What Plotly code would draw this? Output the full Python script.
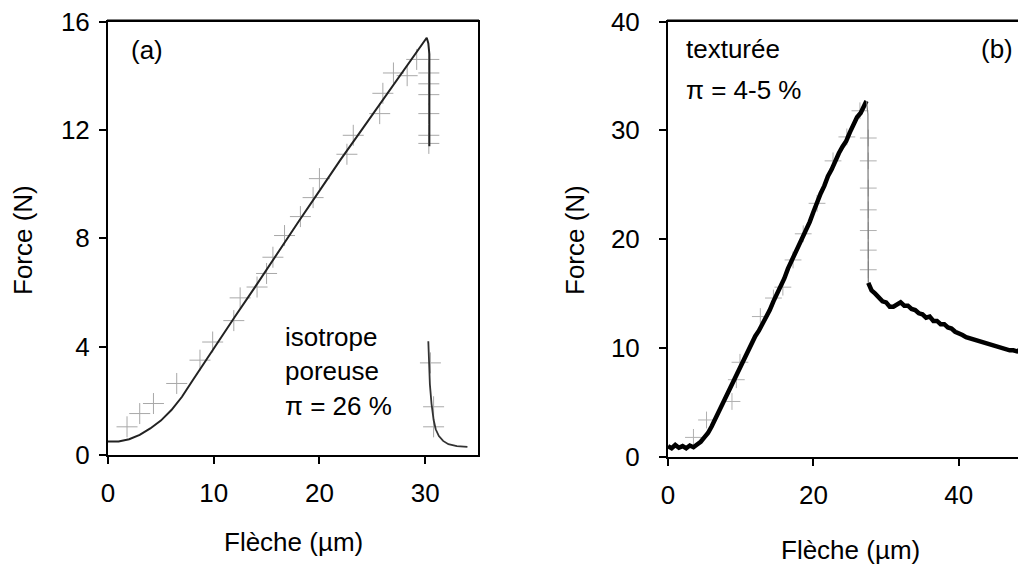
import plotly.graph_objects as go

W, H = 1026, 565

# ---------- Panel (a): isotrope poreuse ----------
a_rise_x = [0, 1, 2, 3, 4, 5, 6, 7, 8, 9, 10, 12, 14, 16, 18, 20, 22, 24, 26, 28, 29, 30, 30.15, 30.3, 30.4, 30.4]
a_rise_F = [0.5, 0.5, 0.58, 0.74, 0.98, 1.27, 1.66, 2.15, 2.75, 3.35, 3.95, 5.1, 6.25, 7.45, 8.6, 9.75, 10.9, 12.0,
            13.1, 14.2, 14.75, 15.3, 15.4, 15.2, 14.8, 11.4]
a_tail_x = [30.3, 30.35, 30.45, 30.6, 30.8, 31.0, 31.3, 31.7, 32.2, 33.0, 34.0]
a_tail_F = [4.2, 3.4, 2.6, 1.9, 1.3, 0.95, 0.7, 0.52, 0.4, 0.33, 0.3]
a_cross_x = [1.8, 3.0, 4.3, 6.5, 8.7, 9.9, 11.9, 12.5, 14.1, 15.0, 15.6, 16.7, 18.2, 19.4, 20.0, 22.6, 23.2,
             25.7, 26.0, 27.0, 28.3, 29.2, 30.35, 30.35, 30.35, 30.35, 30.35, 30.35, 30.35, 30.5, 30.8, 30.8]
a_cross_F = [1.04, 1.53, 1.9, 2.64, 3.5, 4.17, 4.96, 5.8, 6.2, 6.7, 7.3, 8.1, 8.8, 9.5, 10.2, 11.1, 11.8,
             12.6, 13.35, 14.1, 14.0, 14.6, 14.6, 14.1, 13.7, 13.3, 12.6, 11.8, 11.5, 3.4, 1.78, 1.04]

# ---------- Panel (b): texturée ----------
b_rise_x = [0, 0.5, 1, 1.5, 2, 2.5, 3, 3.5, 4, 4.5, 5, 5.5, 6, 6.5, 7, 7.5, 8, 8.5, 9, 9.5, 10, 10.5, 11, 11.5,
            12, 12.5, 13, 13.5, 14, 14.5, 15, 15.5, 16, 16.5, 17, 17.5, 18, 18.5, 19, 19.5, 20, 20.5, 21, 21.5,
            22, 22.5, 23, 23.5, 24, 24.5, 25, 25.5, 26, 26.5, 27, 27.3]
b_rise_F = [1.0, 0.8, 1.1, 0.85, 1.0, 0.8, 1.05, 0.9, 1.15, 1.4, 1.8, 2.2, 2.8, 3.5, 4.2, 5.0, 5.7, 6.3, 7.0,
            7.8, 8.4, 9.1, 9.7, 10.5, 11.1, 11.6, 12.2, 12.9, 13.5, 14.3, 15.0, 15.6, 16.4, 17.3, 18.0, 18.7,
            19.5, 20.3, 21.0, 21.6, 22.5, 23.4, 24.2, 24.9, 25.8, 26.4, 27.2, 27.9, 28.5, 29.0, 29.8, 30.6,
            31.2, 31.6, 32.3, 32.7]
b_drop_x = [27.3, 27.5, 27.55]
b_drop_F = [32.7, 31.5, 16.0]
b_post_x = [27.55, 28, 28.5, 29, 29.5, 30, 30.5, 31, 31.5, 32, 32.5, 33, 33.5, 34, 34.5, 35, 35.5, 36, 36.5,
            37, 37.5, 38, 38.5, 39, 39.5, 40, 40.5, 41, 41.5, 42, 42.5, 43, 43.5, 44, 44.5, 45, 45.5, 46,
            46.5, 47, 47.5, 48, 48.5, 49, 49.5, 50]
b_post_F = [16.0, 15.3, 15.0, 14.7, 14.3, 14.2, 13.8, 13.8, 14.0, 14.2, 13.9, 13.9, 13.6, 13.5, 13.2, 13.1,
            12.8, 12.9, 12.5, 12.5, 12.2, 12.2, 11.9, 11.8, 11.5, 11.4, 11.2, 11.0, 10.9, 10.7, 10.6, 10.5,
            10.4, 10.3, 10.3, 10.1, 10.1, 10.0, 9.9, 9.8, 9.8, 9.7, 9.9, 10.0, 10.1, 10.2]
b_cross_x = [3.5, 5.3, 8.8, 9.4, 9.9, 12.7, 14.5, 15.8, 17.2, 18.6, 20.5, 22.7, 24.6, 26.4,
             27.55, 27.55, 27.55, 27.55, 27.55, 27.55, 27.55]
b_cross_F = [1.8, 3.4, 5.1, 7.1, 8.7, 12.9, 14.6, 15.6, 18.1, 20.5, 23.3, 27.2, 29.4, 31.8,
             29.3, 27.2, 24.7, 22.7, 20.8, 19.0, 17.2]

a_ticks = [0, 10, 20, 30]
a_yticks = [0, 4, 8, 12, 16]
b_ticks = [0, 20, 40]
b_yticks = [0, 10, 20, 30, 40]

FONT = "Liberation Sans, Arial, sans-serif"
FS = 26
OFF = 8  # page body margin: figure drawn 8px right/down of window origin

fig = go.Figure()

# panel a
fig.add_trace(go.Scatter(x=a_cross_x, y=a_cross_F, mode="markers", xaxis="x", yaxis="y",
                         marker=dict(symbol="cross-thin", size=15, line=dict(width=1, color="#a8a8a8")),
                         showlegend=False))
fig.add_trace(go.Scatter(x=a_rise_x, y=a_rise_F, mode="lines", xaxis="x", yaxis="y",
                         line=dict(color="#222222", width=2), showlegend=False))
fig.add_trace(go.Scatter(x=a_tail_x, y=a_tail_F, mode="lines", xaxis="x", yaxis="y",
                         line=dict(color="#333333", width=1.8), showlegend=False))

# panel b
fig.add_trace(go.Scatter(x=b_cross_x, y=b_cross_F, mode="markers", xaxis="x2", yaxis="y2",
                         marker=dict(symbol="cross-thin", size=12, line=dict(width=1, color="#b0b0b0")),
                         showlegend=False))
fig.add_trace(go.Scatter(x=b_rise_x, y=b_rise_F, mode="lines", xaxis="x2", yaxis="y2",
                         line=dict(color="#000000", width=4.5), showlegend=False))
fig.add_trace(go.Scatter(x=b_drop_x, y=b_drop_F, mode="lines", xaxis="x2", yaxis="y2",
                         line=dict(color="#777777", width=1.2), showlegend=False))
fig.add_trace(go.Scatter(x=b_post_x, y=b_post_F, mode="lines", xaxis="x2", yaxis="y2",
                         line=dict(color="#000000", width=4.5), showlegend=False))

axis_common = dict(showgrid=False, zeroline=False, showline=True, linecolor="black", linewidth=2,
                   ticks="outside", ticklen=7, tickwidth=2, tickcolor="black", automargin=False,
                   ticklabeloverflow="allow",
                   tickfont=dict(family=FONT, size=FS, color="black"))

def py(p):
    return (H - (p - OFF)) / H

def px(p):
    return (p - OFF) / W

TOP = 21.5
fig.update_layout(
    width=W, height=H,
    margin=dict(l=0, r=0, t=0, b=0, pad=0),
    paper_bgcolor="white", plot_bgcolor="white",
    font=dict(family=FONT, size=FS, color="black"),
    xaxis=dict(domain=[px(108), px(478)], range=[0, 35], tickvals=a_ticks, anchor="y", mirror=True,
               ticklabelstandoff=7, **axis_common),
    yaxis=dict(domain=[py(455), py(TOP)], range=[0, 16], tickvals=a_yticks, anchor="x", mirror=True,
               ticklabelstandoff=4, **axis_common),
    xaxis2=dict(domain=[px(668), px(1031.5)], range=[0, 50], tickvals=b_ticks, anchor="y2", mirror=True,
                ticklabelstandoff=7, **axis_common),
    yaxis2=dict(domain=[py(457), py(TOP)], range=[0, 40], tickvals=b_yticks, anchor="x2", mirror=False,
                ticklabelstandoff=14, **axis_common),
)

# explicit top frame lines (panel borders), paper-referenced so they are never clipped
fig.add_shape(type="line", xref="paper", yref="paper", x0=px(107), x1=px(479), y0=py(TOP - 1), y1=py(TOP - 1),
              line=dict(color="black", width=2), layer="above")
fig.add_shape(type="line", xref="paper", yref="paper", x0=px(667), x1=1.0, y0=py(TOP - 1), y1=py(TOP - 1),
              line=dict(color="black", width=2), layer="above")

ann = []
def txt(text, x, y, xref="paper", yref="paper", xanchor="left", yanchor="middle", angle=0):
    ann.append(dict(text=text, x=x, y=y, xref=xref, yref=yref, xanchor=xanchor, yanchor=yanchor,
                    showarrow=False, textangle=angle, font=dict(family=FONT, size=FS, color="black")))

# axis titles
txt("Force (N)", px(23), py(240), xanchor="center", angle=-90)
txt("Force (N)", px(575), py(240), xanchor="center", angle=-90)
txt("Flèche (µm)", px(293), py(542), xanchor="center")
txt("Flèche (µm)", px(850), py(550), xanchor="center")

# panel texts
txt("(a)", px(129), py(50))
txt("isotrope", px(283), py(337))
txt("poreuse", px(283), py(371))
txt("π = 26 %", px(283), py(406))
txt("texturée", px(684), py(49))
txt("π = 4-5 %", px(684), py(90))
txt("(b)", px(979), py(49))

fig.update_layout(annotations=ann)
fig.write_html("out.html")
